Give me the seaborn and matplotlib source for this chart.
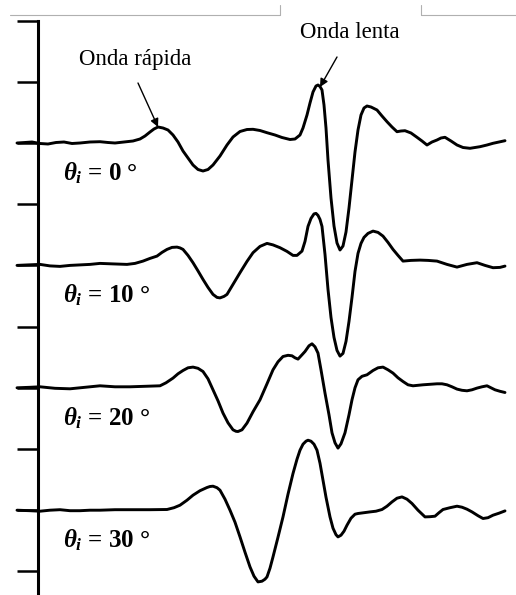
import numpy as np
import pandas as pd
import matplotlib
matplotlib.use("Agg")
import matplotlib.pyplot as plt
import seaborn as sns
from matplotlib.lines import Line2D

# ---------------- data (time in samples after the axis, amplitude in arbitrary units) -------------
angles = [0, 10, 20, 30]
tick_step = 61.2
trace_gap = 2  # traces are two tick steps apart

t_0 = [-21, -13, -6, 2, 10, 18, 26, 34, 42, 52, 62, 70, 77, 86, 95,
       102, 107, 112, 116, 120, 125, 130, 135, 140, 145, 150, 155, 160, 165, 170, 175, 182, 189,
       195, 202, 209, 215, 222, 229, 237, 244, 252, 257, 262, 265, 269, 272, 275, 278, 280, 282,
       284, 286, 288, 290, 293, 296, 299, 302, 305, 308, 311, 314, 317, 320, 323, 326, 329, 333,
       339, 344, 349, 354, 359, 363, 367, 373, 379, 384, 389, 394, 399, 403, 407, 413, 419, 425,
       432, 437, 442, 449, 455, 461, 467]
a_0 = [0, 0.5, 1, -0.5, -1, 0.5, 1, -0.5, 0, 1, 1.3, 0.5, 0, 1, 2,
       4, 7, 11, 14, 16, 15, 13, 8, 1, -8, -15, -22, -26.5, -28, -26.5, -22, -13, -2,
       6, 11.5, 13.5, 13.7, 12.5, 10.3, 8, 5.5, 3.5, 4, 8, 15, 28, 40, 51, 57, 58, 56.5,
       53, 38, 15, -17, -55, -83, -100, -107, -103, -89, -65, -37, -9, 13, 28, 35, 37, 36,
       33, 27, 21.3, 16, 11.3, 12, 12.3, 10, 5.7, 2, -2, 1, 3, 5, 5.7, 2, -2, -4.5,
       -5.3, -4.5, -3.7, -2, -0.3, 1, 2.3]

t_10 = [-21, -10, 2, 12, 22, 32, 42, 52, 62, 75, 89, 97, 105, 112, 119, 124, 129, 134, 139,
        142, 145, 150, 155, 160, 165, 170, 175, 179, 182, 186, 189, 195, 202, 209, 215, 222,
        229, 235, 242, 249, 255, 259, 264, 267, 270, 273, 276, 278, 280, 282, 284, 287, 290,
        293, 296, 299, 302, 305, 308, 311, 314, 317, 320, 323, 326, 330, 335, 340, 345, 350,
        355, 360, 365, 373, 382, 390, 399, 409, 419, 429, 439, 447, 455, 462, 467]
a_10 = [0, 0.5, 1, -0.5, -1, 0, 0.5, 1, 2, 1.5, 1, 2, 4.3, 7, 9.3, 13, 16, 18, 18.3,
        17.5, 16, 10, 2.7, -5.5, -14, -22, -29, -32, -32.5, -31, -29, -19, -7.3, 4, 12.7, 19,
        22, 20.5, 17.7, 14, 10, 10, 14.3, 24, 39, 47, 51.5, 52, 50, 46, 39, 11, -24,
        -52, -72, -85, -90.7, -88, -76, -56, -32, -6, 12, 22, 28, 32, 34.3, 33, 29.3, 23,
        16, 10, 4.3, 5, 5.3, 5, 4.3, 1, -1.7, 1, 2.7, 0, -2.3, -2, -0.7]

t_20 = [-21, -8, 2, 17, 32, 47, 62, 77, 92, 107, 122, 128, 135, 140, 145, 150, 155, 160, 165,
        170, 175, 180, 185, 190, 195, 198, 200, 204, 209, 215, 222, 229, 235, 240, 245, 250,
        254, 257, 260, 264, 267, 271, 274, 277, 280, 283, 287, 291, 294, 297, 300, 303, 307,
        311, 314, 317, 320, 324, 329, 335, 340, 345, 350, 355, 360, 365, 370, 375, 380, 385,
        392, 399, 404, 409, 414, 419, 424, 429, 434, 439, 444, 449, 453, 457, 462, 467]
a_20 = [0, 0.5, 1, -0.5, -1, 0.5, 2, 1, 1, 1.5, 2, 5, 9.7, 14, 17.3, 20, 20.7, 19.5, 16.3,
        9, -2, -13, -25.3, -35, -42, -43.5, -43.7, -42, -35.3, -24, -12, 4, 18, 26, 31.3, 32.5,
        32, 30, 28.7, 33, 36.3, 42, 44, 41, 34.7, 18, -5.3, -27, -45, -55, -60.3, -56, -45,
        -27, -12, 0, 8, 11.5, 13, 17.3, 20, 20.7, 18, 14.7, 10, 6.3, 3, 2, 2.5, 3,
        3.5, 4, 4, 3, 1, -1.3, -2.5, -3, -2, -0.3, 1, 2, 0, -2, -3.5, -4.7]

t_30 = [-21, -8, 2, 12, 22, 32, 42, 52, 62, 77, 92, 112, 129, 136, 142, 149, 155, 162, 169,
        172, 175, 179, 182, 187, 192, 197, 202, 207, 212, 216, 220, 224, 227, 229, 232, 235,
        240, 245, 250, 255, 259, 262, 265, 268, 270, 273, 276, 279, 282, 285, 288, 292, 295,
        298, 300, 303, 306, 309, 313, 317, 320, 326, 332, 338, 344, 349, 354, 359, 364, 369,
        374, 380, 387, 392, 397, 401, 405, 412, 419, 424, 429, 434, 440, 445, 450, 455, 461, 467]
a_30 = [0, -0.5, -1, 0, 0.5, -0.5, -0.5, 0, 0, 0.5, 0.5, 0.5, 0.7, 2.5, 5, 10, 15, 19.5, 22.7,
        23.7, 24, 22.5, 20, 11, 0, -12, -26.7, -42, -56.7, -66, -71.7, -71, -69, -66.7, -58, -46.7,
        -27, -6.7, 16, 36.7, 51, 60, 66, 69, 70, 69, 66, 60, 47, 30, 13, -6.7, -18,
        -24.5, -26.7, -25, -21, -15, -8, -4, -3.3, -2.5, -1.7, -1, 0.7, 4, 8.3, 12, 13.3, 11,
        6.7, 0, -6.7, -6.5, -6, -2.5, 0.7, 2.5, 4, 3, 1, -1.7, -5.5, -8.3, -7.5, -5, -3, -0.7]

tick_multiples = [2, 1, 0, -1, -2, -3, -4, -5, -6, -7]
labels = ["Onda rápida", "Onda lenta"]

# ---------------- build long table ----------------
times = [t_0, t_10, t_20, t_30]
amps = [a_0, a_10, a_20, a_30]
offsets = [-trace_gap * i * tick_step for i in range(len(angles))]
frames = []
for ang, off, tt, aa in zip(angles, offsets, times, amps):
    frames.append(pd.DataFrame({"t": tt, "y": np.array(aa, dtype=float) + off,
                                "trace": ang}))
df = pd.concat(frames, ignore_index=True)

# ---------------- figure ----------------
sns.set_theme(style="white")
plt.rcParams["font.family"] = ["Liberation Serif", "DejaVu Serif"]
plt.rcParams["mathtext.fontset"] = "custom"
plt.rcParams["mathtext.it"] = "Liberation Serif:italic:bold"
plt.rcParams["mathtext.rm"] = "Liberation Serif:bold"
plt.rcParams["mathtext.bf"] = "Liberation Serif:bold"

fig = plt.figure(figsize=(5.16, 5.95), dpi=100)
ax = fig.add_axes([0, 0, 1, 1])

sns.lineplot(data=df, x="t", y="y", units="trace", estimator=None, sort=False,
             color="black", linewidth=2.1, ax=ax, legend=False)
for line in ax.get_lines():
    line.set_solid_joinstyle("round")
    line.set_solid_capstyle("round")

ax.set_xlim(-38, 478)
ax.set_ylim(143 - 595, 143)

for s in ["top", "right", "bottom"]:
    ax.spines[s].set_visible(False)
ax.spines["left"].set_position(("data", 0))
ax.spines["left"].set_bounds(-8 * tick_step, 2 * tick_step)
ax.spines["left"].set_linewidth(2.2)
ax.spines["left"].set_color("black")
ax.set_yticks([k * tick_step for k in tick_multiples])
ax.set_yticklabels([])
ax.set_xticks([])
ax.tick_params(axis="y", direction="out", length=15, width=1.8, color="black", left=True)
ax.set_xlabel("")
ax.set_ylabel("")

# trace labels
for ang, off in zip(angles, offsets):
    ax.text(25, off - 30, r"$\theta_i$" + f" = {ang} °", fontsize=18, fontweight="bold",
            ha="left", va="center", color="black")

# annotations
arrow = dict(arrowstyle="-|>", color="black", lw=1.0, mutation_scale=12, shrinkA=0, shrinkB=0)
ax.annotate("", xy=(120, 16), xytext=(100, 60), arrowprops=arrow)
ax.text(97, 83, labels[0], fontsize=16.5, ha="center", va="center", color="black")
ax.annotate("", xy=(282, 56), xytext=(299, 86), arrowprops=arrow)
ax.text(312, 110, labels[1], fontsize=16.5, ha="center", va="center", color="black")

# faint scan border at the top
gray = "#b0b0b0"
fig.add_artist(Line2D([0.019, 0.5426], [0.975, 0.975], color=gray, lw=0.8))
fig.add_artist(Line2D([0.5426, 0.5426], [0.975, 0.992], color=gray, lw=0.8))
fig.add_artist(Line2D([0.816, 0.816], [0.975, 0.992], color=gray, lw=0.8))
fig.add_artist(Line2D([0.816, 1.0], [0.975, 0.975], color=gray, lw=0.8))

fig.savefig("out.png", dpi=100, facecolor="white")
